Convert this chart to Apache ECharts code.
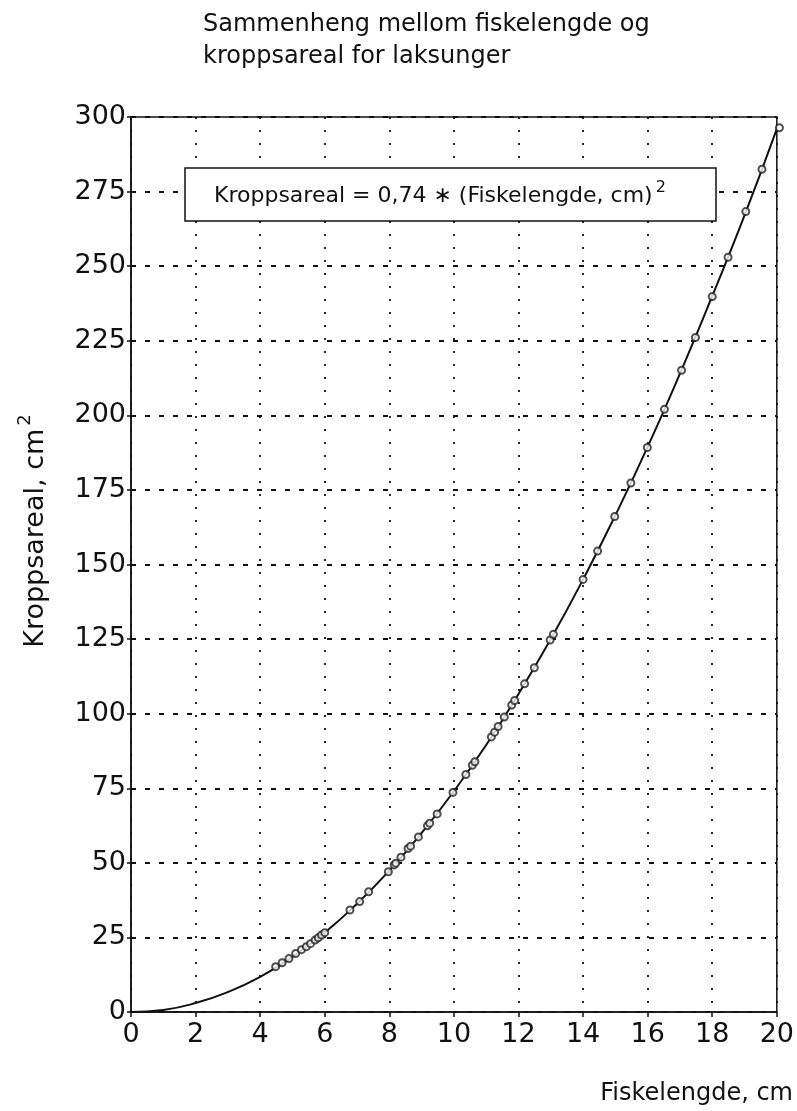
<!DOCTYPE html>
<html>
<head>
<meta charset="utf-8">
<script src="https://cdn.jsdelivr.net/npm/echarts@6/dist/echarts.min.js"></script>
<style>
  html, body { margin: 0; padding: 0; background: #fff; }
  #main { width: 797px; height: 1111px; }
</style>
</head>
<body>
<div id="main"></div>
<script>
// fitted curve
var fitLength = [0, 1, 2, 3, 4, 5, 6, 7, 8, 9, 10, 11, 12, 13, 14, 15, 16, 17, 18, 19, 20];
var fitArea   = [0, 0.7, 3, 6.7, 11.8, 18.5, 26.6, 36.3, 47.4, 60, 74, 89.5, 106.6, 125, 145, 166.5, 189.4, 214, 240, 267, 296];

// measured fish (markers)
var fishLength = [4.48, 4.68, 4.89, 5.1, 5.28, 5.43, 5.56, 5.7, 5.8, 5.9, 6.0,
  6.78, 7.08, 7.36, 7.97, 8.15, 8.2, 8.36, 8.58, 8.66, 8.9, 9.18, 9.25, 9.48,
  9.97, 10.37, 10.57, 10.65, 11.16, 11.26, 11.37, 11.56, 11.79, 11.88, 12.19,
  12.49, 12.98, 13.08, 14.0, 14.45, 14.98, 15.48, 15.99, 16.52, 17.05, 17.48,
  18.0, 18.49, 19.04, 19.54, 20.08];
var bodyArea = [15.2, 16.5, 17.9, 19.6, 20.9, 21.9, 22.9, 24.1, 24.9, 25.8, 26.6,
  34.2, 37.0, 40.3, 47.0, 49.3, 49.9, 51.9, 54.8, 55.6, 58.7, 62.4, 63.3, 66.4,
  73.6, 79.6, 82.7, 83.9, 92.2, 93.8, 95.7, 98.9, 102.9, 104.4, 110.0,
  115.4, 124.7, 126.6, 145.0, 154.5, 166.1, 177.3, 189.2, 202.0, 215.1, 226.1,
  239.8, 253.0, 268.3, 282.5, 296.4];

var xTicks = [0, 20, 2];    // min, max, interval
var yTicks = [0, 300, 25];

var font = 'DejaVu Sans';
var ink = '#111';

var chart = echarts.init(document.getElementById('main'));

var fitData = fitLength.map(function (x, i) { return [x, fitArea[i]]; });
var fishData = fishLength.map(function (x, i) { return [x, bodyArea[i]]; });

chart.setOption({
    animation: false,
    backgroundColor: '#fff',
    grid: {
        left: 131, right: 15, top: 117, bottom: 99,
        show: true, borderColor: ink, borderWidth: 1.5
    },
    xAxis: {
        type: 'value',
        min: xTicks[0], max: xTicks[1], interval: xTicks[2],
        axisLine: { show: true, lineStyle: { color: ink, width: 1.5 } },
        axisTick: { show: true, length: 5, lineStyle: { color: ink, width: 1.5 } },
        axisLabel: { color: ink, fontFamily: font, fontSize: 27, margin: 9 },
        splitLine: { show: true, lineStyle: { color: ink, width: 1.8, type: [2, 11] } }
    },
    yAxis: {
        type: 'value',
        min: yTicks[0], max: yTicks[1], interval: yTicks[2],
        axisLine: { show: true, lineStyle: { color: ink, width: 1.5 } },
        axisTick: { show: true, length: 4, lineStyle: { color: ink, width: 1.5 } },
        axisLabel: { color: ink, fontFamily: font, fontSize: 27, margin: 5 },
        splitLine: { show: true, lineStyle: { color: ink, width: 1.8, type: [5, 9] } }
    },
    graphic: [
        {
            type: 'text', x: 203, y: 25, z: 100,
            style: {
                text: 'Sammenheng mellom fiskelengde og',
                fontFamily: font, fontSize: 24, fill: ink, verticalAlign: 'middle'
            }
        },
        {
            type: 'text', x: 203, y: 57, z: 100,
            style: {
                text: 'kroppsareal for laksunger',
                fontFamily: font, fontSize: 24, fill: ink, verticalAlign: 'middle'
            }
        },
        {
            type: 'rect', z: 100,
            shape: { x: 185, y: 168, width: 531, height: 53 },
            style: { fill: '#fff', stroke: ink, lineWidth: 1.5 }
        },
        {
            type: 'text', x: 214, y: 196, z: 101,
            style: {
                text: '{t|Kroppsareal = 0,74 \u2217 (Fiskelengde, cm)}{s|2}',
                verticalAlign: 'middle',
                rich: {
                    t: { fontFamily: font, fontSize: 22, fill: ink },
                    s: { fontFamily: font, fontSize: 16, fill: ink, padding: [0, 0, 16, 3] }
                }
            }
        },
        {
            type: 'text', x: 793, y: 1094, z: 100,
            style: {
                text: 'Fiskelengde, cm', align: 'right', verticalAlign: 'middle',
                fontFamily: font, fontSize: 24, fill: ink
            }
        },
        {
            type: 'text', x: 36, y: 531, rotation: Math.PI / 2, z: 100,
            style: {
                text: '{t|Kroppsareal, cm}{s|2}',
                align: 'center', verticalAlign: 'middle',
                rich: {
                    t: { fontFamily: font, fontSize: 27, fill: ink },
                    s: { fontFamily: font, fontSize: 18, fill: ink, padding: [0, 0, 22, 3] }
                }
            }
        }
    ],
    series: [
        {
            type: 'line', data: fitData, smooth: true, showSymbol: false,
            lineStyle: { color: ink, width: 2 }, z: 3
        },
        {
            type: 'scatter', data: fishData, symbol: 'emptyCircle', symbolSize: 7,
            itemStyle: { color: '#222', borderWidth: 1.6 },
            clip: false, z: 4
        }
    ]
});
</script>
</body>
</html>
